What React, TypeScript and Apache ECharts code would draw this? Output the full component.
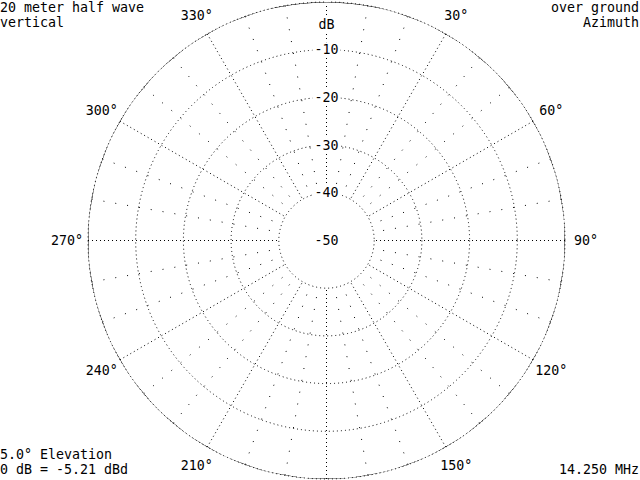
import React, { useEffect, useRef } from "react";
import * as echarts from "echarts";

// azimuth pattern of a vertical: flat 0 dB all the way round
const azimuths = [
  0, 10, 20, 30, 40, 50, 60, 70, 80, 90, 100, 110, 120, 130, 140, 150, 160, 170,
  180, 190, 200, 210, 220, 230, 240, 250, 260, 270, 280, 290, 300, 310, 320, 330,
  340, 350, 360,
];
const gainDb = [
  0, 0, 0, 0, 0, 0, 0, 0, 0, 0, 0, 0, 0, 0, 0, 0, 0, 0,
  0, 0, 0, 0, 0, 0, 0, 0, 0, 0, 0, 0, 0, 0, 0, 0,
  0, 0, 0,
];
// degree labels round the rim (0 and 180 are left off, as in the plot)
const rimAngles = [30, 60, 90, 120, 150, 210, 240, 270, 300, 330];
const centerLabel = "-50";
const titleLines = ["20 meter half wave", "vertical"];
const plotLines = ["over ground", "Azimuth"];
const elevationLines = ["5.0° Elevation", "0 dB = -5.21 dBd"];
const freqLabel = "14.250 MHz";

const FONT = "'DejaVu Sans Mono', 'Liberation Mono', monospace";
const CX = 326.5;
const CY = 240.5;
const R = 238.5;

const text = (x: number, y: number, s: string, align: string) => ({
  type: "text",
  x,
  y,
  style: {
    text: s,
    fill: "#000",
    font: `13.3px ${FONT}`,
    textAlign: align,
    textVerticalAlign: "middle",
  },
});

const App = () => {
  const chartRef = useRef<HTMLDivElement>(null);

  useEffect(() => {
    if (!chartRef.current) return;
    const chart = echarts.init(chartRef.current, undefined, { renderer: "svg" });

    chart.setOption({
      animation: false,
      backgroundColor: "#fff",
      polar: [
        { center: [CX, CY], radius: [R / 5, R] },
        // outer ring only used to hold the rim labels
        { center: [CX, CY], radius: [0, R + 21] },
      ],
      angleAxis: [
        {
          polarIndex: 0,
          type: "value",
          min: 0,
          max: 360,
          interval: 30,
          startAngle: 90,
          clockwise: true,
          axisLine: { show: false },
          axisTick: { show: false },
          axisLabel: { show: false },
          splitLine: {
            show: true,
            lineStyle: { color: "#000", width: 1, type: [1, 3] },
          },
          minorTick: { show: false, splitNumber: 3 },
          minorSplitLine: {
            show: true,
            lineStyle: { color: "#000", width: 1, type: [1, 11] },
          },
        },
        {
          polarIndex: 1,
          type: "value",
          min: 0,
          max: 360,
          startAngle: 90,
          clockwise: true,
          show: false,
        },
      ],
      radiusAxis: [
        {
          polarIndex: 0,
          type: "value",
          min: -40,
          max: 0,
          interval: 10,
          name: "dB",
          nameLocation: "end",
          nameGap: -22,
          nameTextStyle: {
            color: "#000",
            fontFamily: FONT,
            fontSize: 13.3,
            align: "center",
            verticalAlign: "middle",
            backgroundColor: "#fff",
            padding: [1, 2],
          },
          axisLine: { show: false },
          axisTick: { show: false },
          axisLabel: {
            color: "#000",
            fontFamily: FONT,
            fontSize: 13.3,
            margin: 0,
            align: "center",
            verticalAlign: "middle",
            backgroundColor: "#fff",
            padding: [1, 2],
            formatter: (v: number) => (v === 0 ? "" : String(v)),
          },
          splitLine: {
            show: true,
            lineStyle: { color: "#000", width: 1, type: [1, 3] },
          },
        },
        {
          polarIndex: 1,
          type: "value",
          min: 0,
          max: 1,
          show: false,
        },
      ],
      series: [
        {
          type: "line",
          coordinateSystem: "polar",
          polarIndex: 0,
          data: azimuths.map((a, i) => [gainDb[i], a]),
          smooth: true,
          symbol: "none",
          lineStyle: { color: "#000", width: 1 },
        },
        {
          type: "scatter",
          coordinateSystem: "polar",
          polarIndex: 1,
          clip: false,
          silent: true,
          symbolSize: 1,
          itemStyle: { color: "rgba(0,0,0,0)", opacity: 1 },
          data: rimAngles.map((a) => [1, a]),
          label: {
            show: true,
            position: "inside",
            color: "#000",
            fontFamily: FONT,
            fontSize: 13.3,
            formatter: (p: any) => p.value[1] + "°",
          },
        },
      ],
      graphic: [
        text(CX, CY, centerLabel, "center"),
        text(0, 7, titleLines[0], "left"),
        text(0, 22, titleLines[1], "left"),
        text(639, 7, plotLines[0], "right"),
        text(639, 22, plotLines[1], "right"),
        text(0, 454, elevationLines[0], "left"),
        text(0, 469, elevationLines[1], "left"),
        text(639, 469, freqLabel, "right"),
      ],
    });

    return () => {
      chart.dispose();
    };
  }, []);

  return (
    <div
      ref={chartRef}
      style={{ position: "fixed", left: 0, top: 0, width: 640, height: 480 }}
    />
  );
};

export default App;
